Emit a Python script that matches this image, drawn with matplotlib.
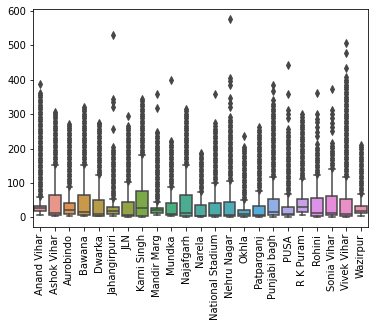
import colorsys

import matplotlib
matplotlib.use("Agg")
import matplotlib.pyplot as plt
import seaborn as sns


stations = ["Anand Vihar", "Ashok Vihar", "Aurobindo", "Bawana", "Dwarka",
            "Jahangirpuri", "JLN", "Karni Singh", "Mandir Marg", "Mundka",
            "Najafgarh", "Narela", "National Stadium", "Nehru Nagar", "Okhla",
            "Patparganj", "Punjabi bagh", "PUSA", "R K Puram", "Rohini",
            "Sonia Vihar", "Vivek Vihar", "Wazirpur"]

# box summary
whislo = [8, 3, 3, 3, 3, 3, 2, 1, 7, 3, 1, 1, 1, 1, 2, 1, 2, 2, 7, 2, 2, 2, 5]
q1 = [19, 6, 9, 6, 5, 9, 4, 3, 13, 8, 4, 3, 3, 4, 4, 4, 7, 6, 17, 4, 6, 4, 12]
med = [27, 12, 20, 15, 9, 18, 7, 27, 20, 11, 13, 5, 6, 7, 10, 7, 17, 10, 30, 13, 14, 11, 18]
q3 = [34, 65, 42, 65, 51, 30, 46, 77, 28, 42, 65, 36, 43, 46, 22, 33, 54, 31, 53, 56, 62, 54, 34]
whishi = [59, 151, 88, 151, 122, 54, 103, 180, 45, 88, 151, 74, 100, 105, 50, 77, 116, 69, 113, 122, 142, 117, 69]

# outliers (dense bands sampled every ~7 units)
fliers = [
    [62, 69, 76, 83, 90, 97, 104, 111, 118, 125, 132, 139, 146, 153, 160, 167, 174, 181,
     188, 195, 202, 209, 216, 223, 230, 237, 244, 251, 258, 265, 272, 279, 286, 293, 300,
     307, 314, 321, 328, 335, 342, 349, 356, 362, 388],
    [155, 162, 169, 176, 183, 190, 197, 204, 211, 218, 225, 232, 239, 246, 253, 260, 267,
     274, 281, 288, 295, 302, 305],
    [92, 99, 106, 113, 120, 127, 134, 141, 148, 155, 162, 169, 176, 183, 190, 197, 204, 211,
     218, 225, 232, 239, 246, 253, 260, 267, 272],
    [155, 162, 169, 176, 183, 190, 197, 204, 211, 218, 225, 232, 239, 246, 253, 260, 267,
     274, 281, 288, 295, 302, 309, 316, 320],
    [125, 132, 139, 146, 153, 160, 167, 174, 181, 188, 195, 202, 209, 216, 223, 230, 237,
     244, 251, 258, 265, 272, 275],
    [57, 64, 71, 78, 85, 92, 99, 106, 113, 120, 127, 134, 141, 148, 155, 162, 169, 176, 183,
     190, 197, 205, 257, 322, 336, 345, 530],
    [106, 113, 120, 127, 134, 141, 148, 155, 162, 169, 176, 183, 190, 197, 204, 211, 218,
     225, 232, 239, 246, 253, 260, 266, 296],
    [183, 190, 197, 204, 211, 218, 225, 232, 239, 246, 253, 260, 267, 274, 281, 288, 295,
     302, 309, 316, 323, 330, 337, 343],
    [48, 55, 62, 69, 76, 83, 90, 97, 104, 111, 118, 125, 132, 139, 146, 153, 160, 167, 174,
     181, 188, 195, 202, 209, 216, 223, 230, 237, 244, 248, 318, 358],
    [92, 99, 106, 113, 120, 127, 134, 141, 148, 155, 162, 169, 176, 183, 190, 197, 204, 211,
     218, 222, 400],
    [155, 162, 169, 176, 183, 190, 197, 204, 211, 218, 225, 232, 239, 246, 253, 260, 267,
     274, 281, 288, 295, 302, 309, 315],
    [78, 85, 92, 99, 106, 113, 120, 127, 134, 141, 148, 155, 162, 169, 176, 183, 188],
    [104, 111, 118, 125, 132, 139, 146, 153, 160, 167, 174, 181, 188, 195, 202, 209, 216,
     223, 230, 237, 244, 251, 258, 265, 274, 360],
    [108, 115, 122, 129, 136, 143, 150, 157, 164, 171, 178, 185, 192, 199, 206, 213, 220,
     227, 234, 241, 248, 255, 262, 269, 276, 283, 292, 322, 334, 346, 386, 396, 404, 577],
    [53, 60, 67, 74, 81, 88, 95, 102, 109, 116, 123, 130, 137, 144, 151, 158, 165, 172, 179,
     186, 193, 200, 205, 237],
    [80, 87, 94, 101, 108, 115, 122, 129, 136, 143, 150, 157, 164, 171, 178, 185, 192, 199,
     206, 213, 220, 227, 234, 241, 248, 255, 263],
    [120, 127, 134, 141, 148, 155, 162, 169, 176, 183, 190, 197, 204, 211, 218, 225, 232,
     239, 246, 253, 260, 267, 274, 281, 288, 295, 302, 309, 316, 323, 330, 340, 368, 386],
    [72, 79, 86, 93, 100, 107, 114, 121, 128, 135, 142, 149, 156, 163, 170, 177, 184, 191,
     198, 205, 212, 219, 226, 233, 240, 247, 258, 290, 302, 312, 360, 443],
    [116, 123, 130, 137, 144, 151, 158, 165, 172, 179, 186, 193, 200, 207, 214, 221, 228,
     235, 242, 249, 256, 263, 270, 277, 284, 291, 302],
    [125, 132, 139, 146, 153, 160, 167, 174, 181, 188, 195, 202, 212, 238, 248, 262, 277,
     287, 302, 363],
    [145, 152, 159, 166, 173, 180, 187, 194, 201, 208, 215, 250, 262, 275, 290, 302, 312, 373],
    [120, 127, 134, 141, 148, 155, 162, 169, 176, 183, 190, 197, 204, 211, 218, 225, 232,
     239, 246, 253, 260, 267, 274, 281, 288, 295, 302, 309, 316, 323, 330, 337, 344, 351,
     358, 365, 372, 379, 386, 393, 400, 408, 433, 477, 506],
    [72, 79, 86, 93, 100, 107, 114, 121, 128, 135, 142, 149, 156, 163, 170, 177, 184, 191,
     198, 205, 210],
]

n = len(stations)
colors = [sns.desaturate(c, .75) for c in sns.husl_palette(n, l=.7)]
lum = min(colorsys.rgb_to_hls(*c)[1] for c in colors) * .6
gray = (lum, lum, lum)

stats = []
for i in range(n):
    stats.append(dict(label=stations[i], whislo=whislo[i], q1=q1[i], med=med[i],
                      q3=q3[i], whishi=whishi[i], fliers=fliers[i]))

fig = plt.figure(figsize=(375 / 72, 327 / 72), dpi=72)
ax = fig.add_axes([33 / 375, 100 / 327, 335 / 375, 218 / 327])

bp = ax.bxp(stats, positions=range(n), widths=.8, patch_artist=True,
            boxprops=dict(edgecolor=gray, linewidth=1.5),
            whiskerprops=dict(color=gray, linewidth=1.5),
            capprops=dict(color=gray, linewidth=1.5),
            medianprops=dict(color=gray, linewidth=1.5),
            flierprops=dict(marker="d", markerfacecolor=gray, markeredgecolor=gray,
                            markersize=5, linestyle="none"))
for box, c in zip(bp["boxes"], colors):
    box.set_facecolor(c)

ax.set_xlim(-.5, n - .5)
ax.set_ylim(-28, 606)
ax.set_yticks([0, 100, 200, 300, 400, 500, 600])
ax.set_xticks(range(n))
ax.set_xticklabels(stations, rotation=90)

fig.savefig("out.png", dpi=72)
